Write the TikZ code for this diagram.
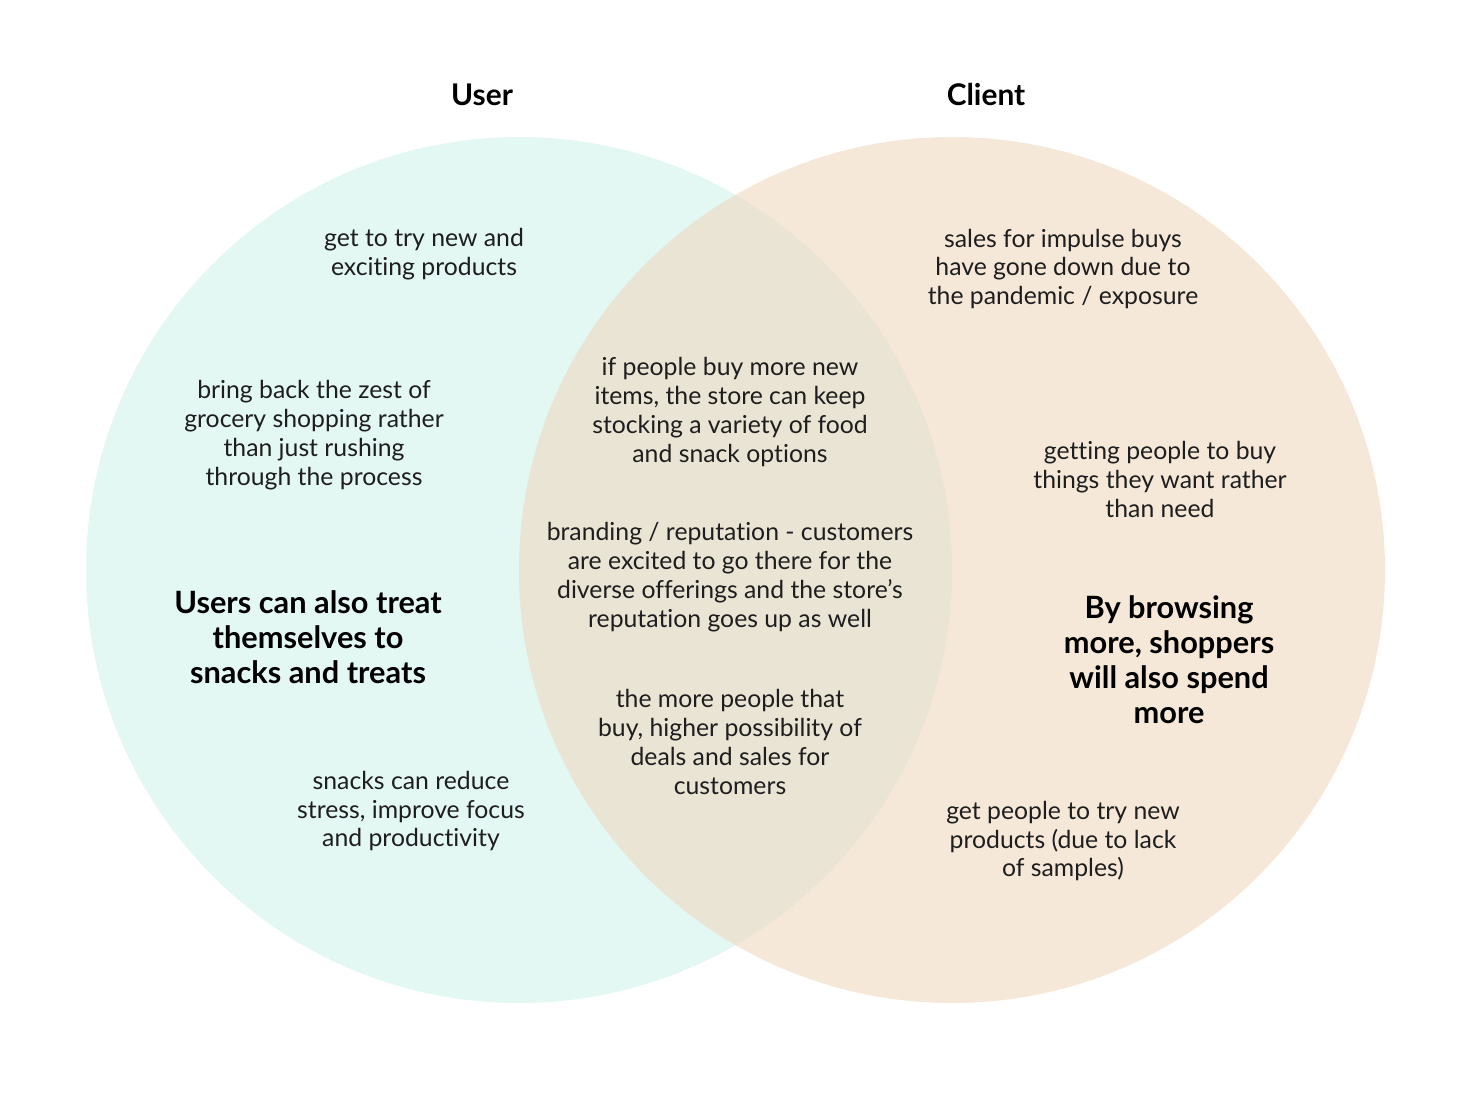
\documentclass[tikz,border=0pt]{standalone}
\usepackage{fontspec}
\setmainfont{Lato}[Ligatures=NoCommon]
\usepackage{xcolor}
\usetikzlibrary{positioning}

\definecolor{userfill}{HTML}{E3F8F3}
\definecolor{clientfill}{HTML}{F5E8D8}
\definecolor{bothfill}{HTML}{EAE4D5}
\definecolor{inktext}{HTML}{1E1E1E}

\tikzset{
    note/.style={align=center, text=inktext, inner sep=0pt, font=\fontsize{14.1}{16.5}\selectfont},
    keynote/.style={align=center, text=black, inner sep=0pt, font=\fontsize{17.5}{19.9}\selectfont\bfseries},
    heading/.style={text=black, inner sep=0pt, font=\fontsize{17}{19.9}\selectfont\bfseries}
}

\begin{document}
\begin{tikzpicture}[x=0.02cm, y=-0.02cm]
    \useasboundingbox (0,0) rectangle (1460,1094);

    % Circle centres
    \coordinate (userC) at (519,570);
    \coordinate (clientC) at (952,570);

    % Draw circles
    \fill[userfill] (userC) circle (433);
    \fill[clientfill] (clientC) circle (433);
    \begin{scope}
        \clip (userC) circle (433);
        \fill[bothfill] (clientC) circle (433);
    \end{scope}

    % Titles
    \node[heading] (userTitle) at (482,95) {User};
    \node[heading] (clientTitle) at (986,95) {Client};

    % User side
    \node[note] (tryNew) at (424,254) {get to try new and\\exciting products};
    \node[note] (zest) at (314,435) {bring back the zest of\\grocery shopping rather\\than just rushing\\through the process};
    \node[keynote] (treat) at (308,637) {Users can also treat\\themselves to\\snacks and treats};
    \node[note] (stress) at (411,811) {snacks can reduce\\stress, improve focus\\and productivity};

    % Shared
    \node[note] (variety) at (730,412) {if people buy more new\\items, the store can keep\\stocking a variety of food\\and snack options};
    \node[note] (branding) at (730,577) {branding / reputation - customers\\are excited to go there for the\\diverse offerings and the store’s\\reputation goes up as well};
    \node[note] (deals) at (730,742) {the more people that\\buy, higher possibility of\\deals and sales for\\customers};

    % Client side
    \node[note] (impulse) at (1063,269) {sales for impulse buys\\have gone down due to\\the pandemic / exposure};
    \node[note] (wantNeed) at (1160,479) {getting people to buy\\things they want rather\\than need};
    \node[keynote] (browse) at (1169,660) {By browsing\\more, shoppers\\will also spend\\more};
    \node[note] (samples) at (1063,841) {get people to try new\\products (due to lack\\of samples)};
\end{tikzpicture}
\end{document}
